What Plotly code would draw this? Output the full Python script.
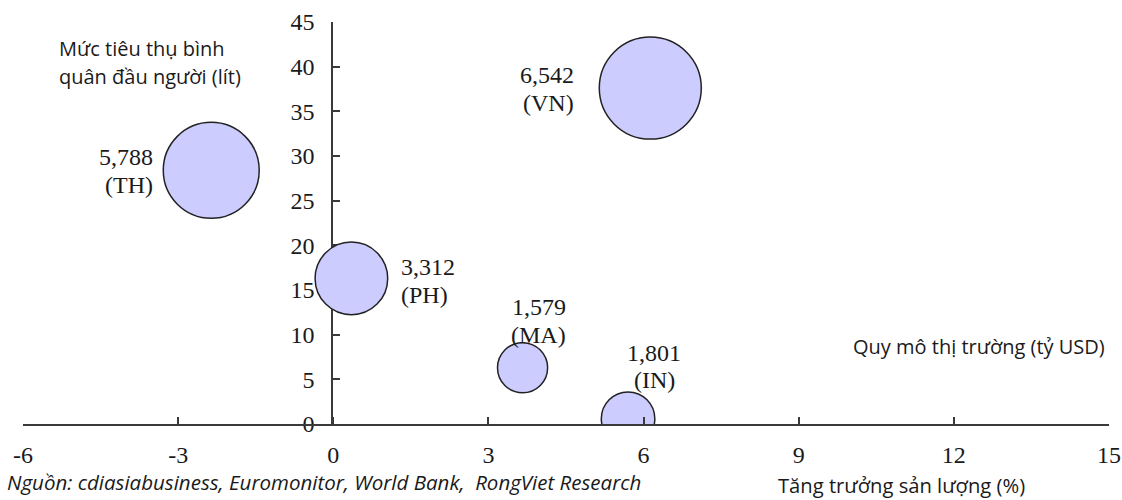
import plotly.graph_objects as go

# Market data per country
codes = ["TH", "VN", "PH", "MA", "IN"]
growth_pct = [-2.36, 6.13, 0.35, 3.66, 5.70]          # x: production growth (%)
per_capita_litres = [28.4, 37.6, 16.3, 6.3, 0.6]     # y: per-capita consumption (litres)
market_size_busd = [5788, 6542, 3312, 1579, 1801]    # bubble: market size (bn USD)

x_min, x_max = -6, 15
y_min, y_max = 0, 45
x_tick_vals = [-6, -3, 0, 3, 6, 9, 12, 15]
x_tick_text = ["-6", "-3", "0", "3", "6", "9", "12", "15"]
y_tick_vals = [0, 5, 10, 15, 20, 25, 30, 35, 40, 45]

# Label placement around each bubble (pixel offsets from the bubble centre)
label_style = {
    "TH": dict(xanchor="right", xshift=-56, y1=13, y2=-15),
    "VN": dict(xanchor="right", xshift=-74, y1=13, y2=-15),
    "PH": dict(xanchor="left", xshift=48, y1=11, y2=-17),
    "MA": dict(xanchor="center", xshift=16, y1=61, y2=33),
    "IN": dict(xanchor="center", xshift=26, y1=66, y2=39),
}

W, H = 1122, 500
ML, MR, MT, MB = 23, 13, 22, 76
serif = "Liberation Serif, Times New Roman, serif"
sans = "Open Sans, Noto Sans, sans-serif"
text_col = "#1a1a1a"
axis_col = "#3a3a3a"

max_diam = 102
sizeref = 2.0 * max(market_size_busd) / (max_diam ** 2)

fig = go.Figure()

# Empty trace that registers the helper subplot (x, y) carrying the value axis
fig.add_trace(go.Scatter(
    x=[], y=[], xaxis="x", yaxis="y", mode="markers",
    hoverinfo="skip", showlegend=False,
))

# Bubbles on the full-width growth axis
fig.add_trace(go.Scatter(
    x=growth_pct,
    y=per_capita_litres,
    xaxis="x2", yaxis="y",
    mode="markers",
    marker=dict(
        size=market_size_busd,
        sizemode="area",
        sizeref=sizeref,
        color="#CCCCFF",
        line=dict(color="#222222", width=1.5),
        opacity=1,
    ),
    hoverinfo="skip",
    showlegend=False,
))

annotations = []
for c, gx, gy, v in zip(codes, growth_pct, per_capita_litres, market_size_busd):
    st = label_style[c]
    for txt, ys in ((f"{v:,}", st["y1"]), (f"({c})", st["y2"])):
        annotations.append(dict(
            x=gx, y=gy, xref="x2", yref="y",
            text=txt, showarrow=False,
            xanchor=st["xanchor"], yanchor="middle",
            xshift=st["xshift"], yshift=ys,
            font=dict(family=serif, size=24, color=text_col),
        ))

pw = W - ML - MR
ph = H - MT - MB


def px_to_paper(px, py):
    return (px - ML) / pw, (H - MB - py) / ph


def add_text(txt, px, py, italic=False, size=20):
    x, y = px_to_paper(px, py)
    annotations.append(dict(
        x=x, y=y, xref="paper", yref="paper",
        text=f"<i>{txt}</i>" if italic else txt,
        showarrow=False, xanchor="left", yanchor="middle",
        font=dict(family=sans, size=size, color=text_col),
    ))


add_text("Mức tiêu thụ bình", 57, 48)
add_text("quân đầu người (lít)", 57, 76)
add_text("Quy mô thị trường (tỷ USD)", 851, 346)
add_text("Tăng trưởng sản lượng (%)", 776, 485, size=20.2)
add_text("Nguồn: cdiasiabusiness, Euromonitor, World Bank,\u00a0 RongViet Research", 5, 482,
         italic=True, size=20.5)

# The value axis crosses the growth axis at x = 0: a helper axis whose
# domain starts at that point carries the vertical axis line and its ticks.
zero_frac = (0 - x_min) / (x_max - x_min)

fig.update_layout(
    width=W, height=H,
    margin=dict(l=ML, r=MR, t=MT, b=MB, pad=0),
    paper_bgcolor="white",
    plot_bgcolor="rgba(0,0,0,0)",
    annotations=annotations,
    xaxis=dict(
        domain=[zero_frac, 1], anchor="y",
        range=[0, x_max],
        showline=False, showticklabels=False, ticks="",
        showgrid=False, zeroline=False, automargin=False,
    ),
    xaxis2=dict(
        domain=[0, 1], anchor="y",
        range=[x_min, x_max],
        tickmode="array", tickvals=x_tick_vals, ticktext=x_tick_text,
        showgrid=False, zeroline=False, automargin=False,
        showline=True, linecolor=axis_col, linewidth=2,
        ticks="inside", ticklen=7, tickwidth=2, tickcolor=axis_col,
        tickfont=dict(family=serif, size=24, color=text_col),
        ticklabelstandoff=8,
    ),
    yaxis=dict(
        anchor="x", side="left",
        range=[y_min, y_max],
        tickmode="array", tickvals=y_tick_vals,
        showgrid=False, zeroline=False, automargin=False,
        showline=True, linecolor=axis_col, linewidth=2,
        ticks="inside", ticklen=7, tickwidth=2, tickcolor=axis_col,
        tickfont=dict(family=serif, size=24, color=text_col),
        ticklabelstandoff=12,
    ),
)

fig.write_html("out.html")
